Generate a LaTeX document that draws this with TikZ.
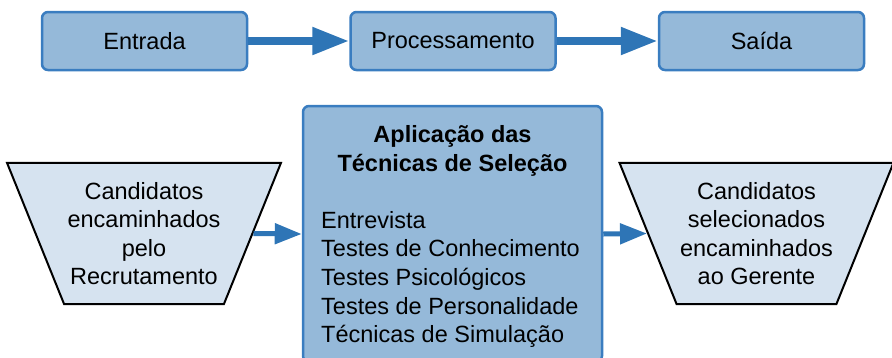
\documentclass[tikz,border=0pt]{standalone}
\usepackage{fontspec}
\setmainfont{Liberation Sans}
\usepackage{xcolor}
\usetikzlibrary{arrows.meta,shapes.geometric}

\definecolor{caixa}{HTML}{95B9D9}
\definecolor{borda}{HTML}{3A7DC0}
\definecolor{seta}{HTML}{2E75B6}
\definecolor{funilcor}{HTML}{D6E3F0}

\begin{document}
\begin{tikzpicture}[x=1pt, y=-1pt,
  texto/.style={font=\fontsize{23.5}{28.6}\selectfont},
  etapa/.style={texto, draw=borda, line width=2.5pt, fill=caixa, rounded corners=6pt,
    minimum width=205pt, minimum height=58pt},
  funil/.style={texto, trapezium, shape border rotate=180, trapezium angle=68,
    draw=black, line width=2pt, fill=funilcor, align=center,
    inner xsep=3.5pt, inner ysep=19pt},
  setagrossa/.style={-{Triangle[length=37pt, width=26pt]}, line width=8pt, seta},
  setafina/.style={-{Triangle[length=27pt, width=20pt]}, line width=5pt, seta}]
  \clip (0,0) rectangle (892,357);

  % Entrada -> Processamento -> Saida
  \node[etapa] (entrada) at (144.5,41) {Entrada};
  \node[etapa] (proc)    at (453,41)   {Processamento};
  \node[etapa] (saida)   at (761.5,41) {Saída};
  \draw[setagrossa] (entrada) -- (proc);
  \draw[setagrossa] (proc) -- (saida);

  % Tecnicas de selecao (box runs past the bottom edge)
  \node[draw=borda, line width=2.5pt, fill=caixa, rounded corners=6pt,
    minimum width=299pt, minimum height=256pt] (tec) at (452.5,234) {};
  \node[texto, font=\fontsize{23.5}{28.6}\selectfont\bfseries, anchor=base] (titulo1) at (452.5,142) {Aplicação das};
  \node[texto, font=\fontsize{23.5}{28.6}\selectfont\bfseries, anchor=base] (titulo2) at (452.5,171) {Técnicas de Seleção};
  \foreach \t [count=\i] in {Entrevista, Testes de Conhecimento, Testes Psicológicos,
      Testes de Personalidade, Técnicas de Simulação}
    \node[texto, anchor=base west, inner xsep=0pt] (item\i) at (321,{199.3+28.7*\i}) {\t};

  % Candidatos
  \node[funil] (cand) at (144,233.5) {Candidatos\\encaminhados\\pelo\\Recrutamento};
  \node[funil] (sel)  at (756.5,233.5) {Candidatos\\selecionados\\encaminhados\\ao Gerente};
  \draw[setafina] (cand.east) -- (tec.west);
  \draw[setafina] (tec.east) -- (sel.west);
\end{tikzpicture}
\end{document}
